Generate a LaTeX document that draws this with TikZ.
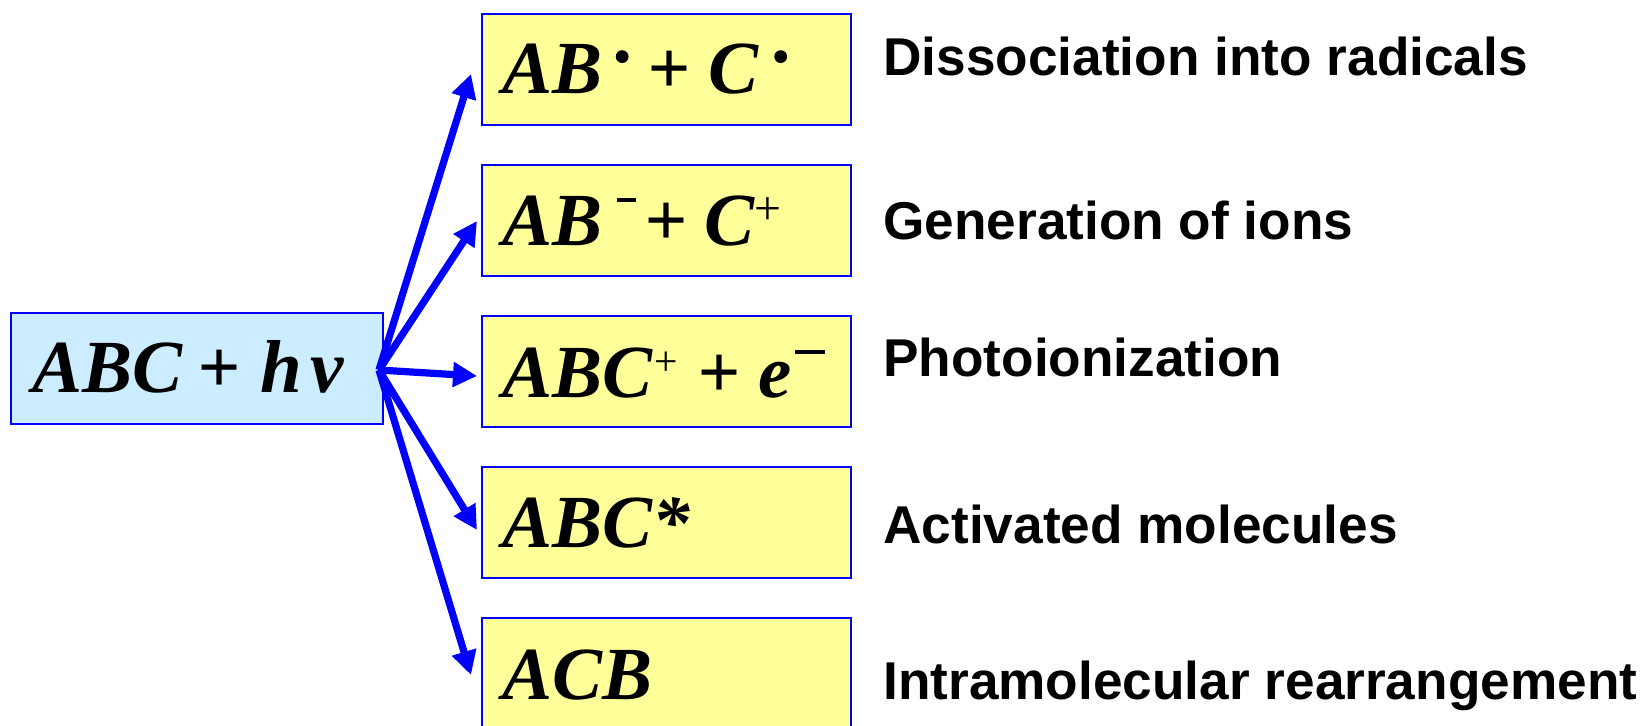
\documentclass[tikz,border=0pt]{standalone}
\usepackage{fontspec}
\setmainfont{Liberation Serif}
\newfontfamily\labfont{Liberation Sans}
\usetikzlibrary{arrows.meta,calc}
\definecolor{srcfill}{RGB}{204,236,255}
\definecolor{prodfill}{RGB}{255,255,153}
\definecolor{edgeblue}{RGB}{0,0,255}
\newcommand\raddot{\tikz[baseline=-18.2pt]\fill (0,0) circle (3.2pt);}
\newcommand\supplus[2]{\raisebox{#2}{\fontsize{#1}{#1}\selectfont\upshape\mdseries +}}
\newcommand\supbar[1]{\rule[21.5pt]{#1}{2pt}}
\begin{document}
\begin{tikzpicture}[x=0.5pt,y=-0.5pt,
  srcbox/.style={draw=edgeblue, line width=1pt, fill=srcfill, minimum width=186pt, minimum height=55.5pt, inner sep=0, anchor=north west},
  prodbox/.style={draw=edgeblue, line width=1pt, fill=prodfill, minimum width=184.5pt, minimum height=55.5pt, inner sep=0, anchor=north west},
  chem/.style={font=\fontsize{37.5}{40}\selectfont\bfseries\itshape, inner sep=0, anchor=base west},
  lab/.style={font=\labfont\fontsize{26.6}{30}\selectfont\bfseries, inner sep=0, anchor=base west},
  arr/.style={draw=edgeblue, line width=3.6pt, -{Triangle[length=12pt,width=12pt]}}]
\useasboundingbox (0,0) rectangle (1646,725);

\node[srcbox] (src) at (10,312) {};
\node[prodbox] (p1) at (481,13) {};
\node[prodbox] (p2) at (481,164) {};
\node[prodbox] (p3) at (481,315) {};
\node[prodbox] (p4) at (481,466) {};
\node[prodbox] (p5) at (481,617) {};

\node[chem] (tsrc) at (32,392) {ABC\hspace{7.75pt}+\hspace{9.7pt}h\hspace{4.3pt}ν};
\node[chem] (t1) at (502,93) {AB\hspace{6.65pt}\raddot\hspace{9.7pt}+\hspace{9pt}C\hspace{7.8pt}\raddot};
\node[chem] (t2) at (502,245) {AB\hspace{7.5pt}\supbar{9.5pt}\hspace{4.25pt}+\hspace{8.5pt}C\supplus{23.8pt}{10.5pt}};
\node[chem] (t3) at (502,397) {ABC\hspace{0.9pt}\supplus{20.8pt}{10.7pt}\hspace{10.1pt}+\hspace{9pt}e\hspace{1.65pt}\supbar{15pt}};
\node[chem] (t4) at (502,547) {ABC*};
\node[chem] (t5) at (502,699) {ACB};

\node[lab] (l1) at (883,75) {Dissociation into radicals};
\node[lab] (l2) at (883,239) {Generation of ions};
\node[lab] (l3) at (883,376) {Photoionization};
\node[lab] (l4) at (883,543) {Activated molecules};
\node[lab] (l5) at (883,699) {Intramolecular rearrangement};

\coordinate (o) at (379,370);
\draw[arr] (o) -- ($(p1.west)+(-10,4.5)$);
\draw[arr] (o) -- ($(p2.west)+(-4,0.5)$);
\draw[arr] (o) -- ($(p3.west)+(-4,4.5)$);
\draw[arr] (o) -- ($(p4.west)+(-4,7.5)$);
\draw[arr] (o) -- ($(p5.west)+(-10,1.5)$);
\end{tikzpicture}
\end{document}
